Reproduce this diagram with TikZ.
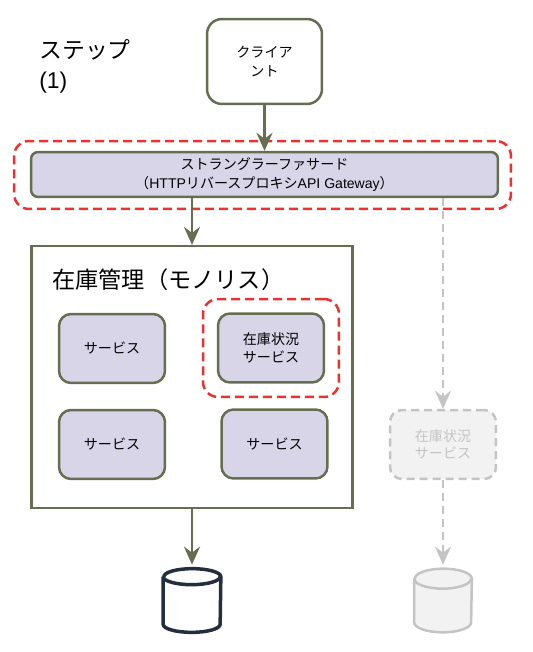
\documentclass[tikz,border=0pt]{standalone}
\usepackage{fontspec}
\setmainfont{Liberation Sans}
\newfontfamily\cjk{Noto Sans CJK JP}
\usetikzlibrary{arrows.meta}
\definecolor{olive}{HTML}{666E52}
\definecolor{lilac}{HTML}{D9D5E8}
\definecolor{redline}{HTML}{EE3030}
\definecolor{ghostline}{HTML}{C4C4C4}
\definecolor{ghostfill}{HTML}{F2F2F2}
\definecolor{dbline}{HTML}{232F3E}
\tikzset{
  client/.style={
    shape = rectangle,
    draw = olive,
    rounded corners = 0.3cm,
    line width = 0.05cm,
    align = center,
    font = \fontsize{8}{11}\selectfont\cjk,
    minimum width = 2.3cm,
    minimum height = 1.7cm
  },
  facade/.style={
    shape = rectangle,
    draw = olive,
    fill = lilac,
    rounded corners = 0.14cm,
    line width = 0.05cm,
    align = center,
    font = \fontsize{8}{10.5}\selectfont,
    minimum width = 9.34cm,
    minimum height = 0.86cm
  },
  service/.style={
    shape = rectangle,
    draw = olive,
    fill = lilac,
    rounded corners = 0.24cm,
    line width = 0.05cm,
    align = center,
    font = \fontsize{8}{10}\selectfont\cjk,
    minimum width = 2.12cm,
    minimum height = 1.38cm
  },
  ghost/.style={
    service,
    draw = ghostline,
    fill = ghostfill,
    text = ghostline,
    dash pattern = on 0.16cm off 0.1cm
  },
  highlight/.style={
    shape = rectangle,
    draw = redline,
    rounded corners = 0.3cm,
    line width = 0.05cm,
    dash pattern = on 0.18cm off 0.1cm
  },
  mono/.style={
    shape = rectangle,
    draw = olive,
    line width = 0.045cm,
    minimum width = 6.42cm,
    minimum height = 5.24cm
  },
  store/.style={
    shape = rectangle,
    inner sep = 0,
    minimum width = 1.14cm,
    minimum height = 1.26cm
  },
  flow/.style={
    draw = olive,
    line width = 0.055cm,
    -{Stealth[length=0.36cm,width=0.32cm,inset=0.12cm]}
  },
  ghostflow/.style={
    draw = ghostline,
    line width = 0.055cm,
    dash pattern = on 0.16cm off 0.1cm,
    -{Stealth[length=0.36cm,width=0.32cm,inset=0.12cm]}
  }
}
% store outline: node name, line width, colour, fill, ellipse height
\newcommand{\drawstore}[5]{
  \draw[line width=#2, draw=#3, fill=#4] ([yshift=-#5]#1.north west) -- ([yshift=#5]#1.south west)
    arc[x radius=0.57cm, y radius=#5, start angle=180, end angle=360]
    -- ([yshift=-#5]#1.north east)
    arc[x radius=0.57cm, y radius=#5, start angle=0, end angle=180];
  \draw[line width=#2, draw=#3] ([yshift=-#5]#1.north west)
    arc[x radius=0.57cm, y radius=#5, start angle=180, end angle=360];
}
\begin{document}
\begin{tikzpicture}[x=0.02cm,y=-0.02cm]
        \useasboundingbox (0,0) rectangle (532,652);
        % dashed frames go first
        \node[highlight, minimum width=9.94cm, minimum height=1.36cm] (facadeframe) at (262.5,175) {};
        \node[highlight, minimum width=2.72cm, minimum height=1.96cm] (stockframe) at (271,348) {};
        % boxes
        \node[client] (client) at (264.5,61.5) {クライア\\ント};
        \node[facade] (facade) at (264.5,174.5) {{\cjk ストラングラーファサード}\\{\cjk （}HTTP{\cjk リバースプロキシ}API Gateway{\cjk ）}};
        \node[mono] (mono) at (192,377) {};
        \node[anchor=west, inner sep=0, font=\fontsize{13.2}{15}\selectfont\cjk] (monotitle) at (52,280) {在庫管理（モノリス）};
        \node[service] (svca) at (112,348.5) {サービス};
        \node[service] (stock) at (271,348) {在庫状況\\サービス};
        \node[service] (svcb) at (112,444.5) {サービス};
        \node[service] (svcc) at (274.5,444) {サービス};
        \node[ghost] (ghost) at (443,444.5) {在庫状況\\サービス};
        \node[store] (db) at (192,600.5) {};
        \node[store] (ghostdb) at (443,600.5) {};
        \drawstore{db}{0.07cm}{dbline}{white}{0.16cm}
        \drawstore{ghostdb}{0.05cm}{ghostline}{ghostfill}{0.2cm}
        \node[anchor=north west, inner sep=0, align=left, font=\fontsize{13}{17}\selectfont] (step) at (39,39) {{\cjk ステップ}\\(1)};
        % connectors
        \draw[flow] (client) -- (facade);
        \draw[flow] (facade.south -| db.north) -- (mono.north -| db.north);
        \draw[flow] (mono.south -| db.north) -- ([yshift=0.08cm]db.north);
        \draw[ghostflow] (facade.south -| ghost.north) -- (ghost.north);
        \draw[ghostflow] (ghost.south) -- ([yshift=0.08cm]ghostdb.north);
\end{tikzpicture}
\end{document}
